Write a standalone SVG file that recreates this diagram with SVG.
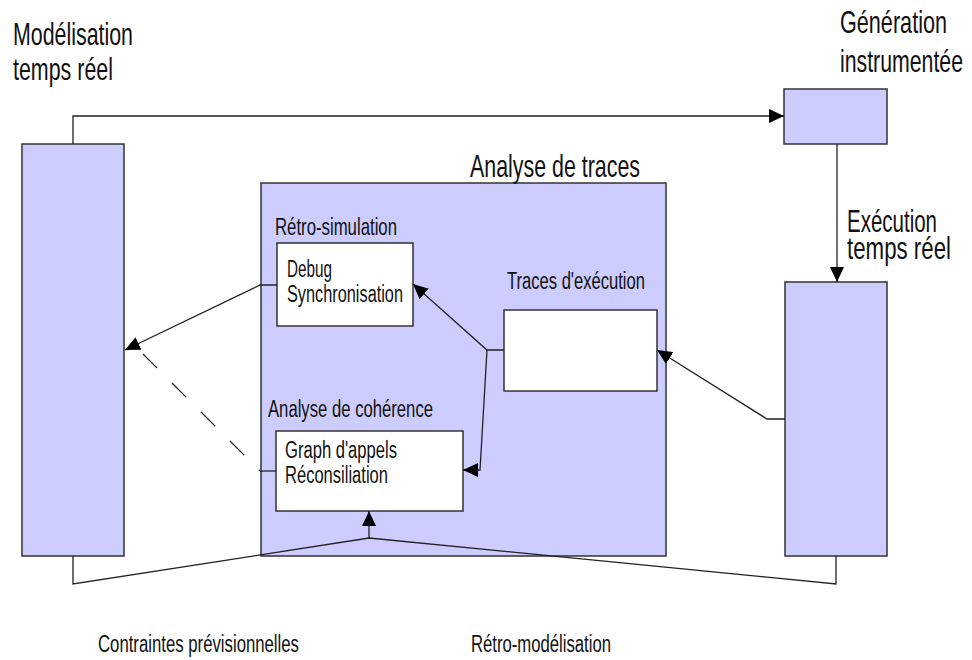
<svg xmlns="http://www.w3.org/2000/svg" width="972" height="660" viewBox="0 0 972 660">
  <style>
    .blk { fill: #ccccff; stroke: #333333; stroke-width: 1.5; }
    .box { fill: #ffffff; stroke: #333333; stroke-width: 1.5; }
    .lbl { font-family: "Liberation Sans", Arial, sans-serif; fill: #111111; }
    .big { font-size: 21.5px; }
    .small { font-size: 16.8px; }
    .wire { fill: none; stroke: #222222; stroke-width: 1.3; }
    .dash { stroke-dasharray: 20 21; }
  </style>
  <defs>
    <marker id="arrow" markerUnits="userSpaceOnUse" markerWidth="16" markerHeight="14" refX="15" refY="7" orient="auto">
      <path d="M0,0 L15,7 L0,14 z" fill="#000000"/>
    </marker>
  </defs>

  <rect width="972" height="660" fill="#ffffff"/>

  <!-- Modelling block -->
  <g id="modelisation">
    <rect class="blk" x="22" y="144" width="102" height="412"/>
    <text class="lbl big" transform="translate(13,45) scale(1,1.45)" textLength="120" lengthAdjust="spacingAndGlyphs">Modélisation</text>
    <text class="lbl big" transform="translate(13,80) scale(1,1.45)" textLength="100" lengthAdjust="spacingAndGlyphs">temps réel</text>
  </g>

  <!-- Instrumented generation -->
  <g id="generation">
    <rect class="blk" x="784" y="89" width="103" height="55"/>
    <text class="lbl big" transform="translate(840,33) scale(1,1.45)" textLength="107" lengthAdjust="spacingAndGlyphs">Génération</text>
    <text class="lbl big" transform="translate(840,72) scale(1,1.45)" textLength="123" lengthAdjust="spacingAndGlyphs">instrumentée</text>
  </g>

  <!-- Real-time execution -->
  <g id="execution">
    <rect class="blk" x="785" y="282" width="102" height="274"/>
    <text class="lbl big" transform="translate(847,232) scale(1,1.45)" textLength="90" lengthAdjust="spacingAndGlyphs">Exécution</text>
    <text class="lbl big" transform="translate(847,259) scale(1,1.45)" textLength="104" lengthAdjust="spacingAndGlyphs">temps réel</text>
  </g>

  <!-- Trace analysis container -->
  <g id="analyse">
    <rect class="blk" x="261" y="183" width="405" height="373"/>
    <text class="lbl big" transform="translate(470,177) scale(1,1.45)" textLength="170" lengthAdjust="spacingAndGlyphs">Analyse de traces</text>
  </g>

  <g id="retro-simulation">
    <rect class="box" x="277" y="243" width="136" height="83"/>
    <text class="lbl small" transform="translate(275,235) scale(1,1.45)" textLength="122" lengthAdjust="spacingAndGlyphs">Rétro-simulation</text>
    <text class="lbl small" transform="translate(287,277) scale(1,1.45)" textLength="45" lengthAdjust="spacingAndGlyphs">Debug</text>
    <text class="lbl small" transform="translate(287,302) scale(1,1.45)" textLength="116" lengthAdjust="spacingAndGlyphs">Synchronisation</text>
  </g>

  <g id="traces">
    <rect class="box" x="504" y="310" width="153" height="81"/>
    <text class="lbl small" transform="translate(507,289) scale(1,1.45)" textLength="138" lengthAdjust="spacingAndGlyphs">Traces d'exécution</text>
  </g>

  <g id="coherence">
    <rect class="box" x="276" y="431" width="187" height="80"/>
    <text class="lbl small" transform="translate(268,417) scale(1,1.45)" textLength="165" lengthAdjust="spacingAndGlyphs">Analyse de cohérence</text>
    <text class="lbl small" transform="translate(285,458) scale(1,1.45)" textLength="112" lengthAdjust="spacingAndGlyphs">Graph d'appels</text>
    <text class="lbl small" transform="translate(285,483) scale(1,1.45)" textLength="103" lengthAdjust="spacingAndGlyphs">Réconsiliation</text>
  </g>

  <!-- Connectors -->
  <g id="connectors">
    <polyline class="wire" points="73,144 73,116 784,116" marker-end="url(#arrow)"/>
    <polyline class="wire" points="837,144 837,282" marker-end="url(#arrow)"/>
    <polyline class="wire" points="785,419 767,419 657,350" marker-end="url(#arrow)"/>
    <polyline class="wire" points="504,350 487,350 413,284" marker-end="url(#arrow)"/>
    <polyline class="wire" points="487,350 480,470 463,470" marker-end="url(#arrow)"/>
    <polyline class="wire" points="277,285 260,285 125,350" marker-end="url(#arrow)"/>
    <polyline class="wire" points="276,471 260,471"/>
    <line class="wire dash" x1="143" y1="354" x2="260" y2="471"/>
    <polyline class="wire" points="73,556 73,584 369,538 836,584 836,556"/>
    <polyline class="wire" points="369,538 369,511" marker-end="url(#arrow)"/>
  </g>

  <!-- Flow labels -->
  <g id="flow-labels">
    <text class="lbl small" transform="translate(98,652) scale(1,1.45)" textLength="201" lengthAdjust="spacingAndGlyphs">Contraintes prévisionnelles</text>
    <text class="lbl small" transform="translate(471,652) scale(1,1.45)" textLength="140" lengthAdjust="spacingAndGlyphs">Rétro-modélisation</text>
  </g>
</svg>
